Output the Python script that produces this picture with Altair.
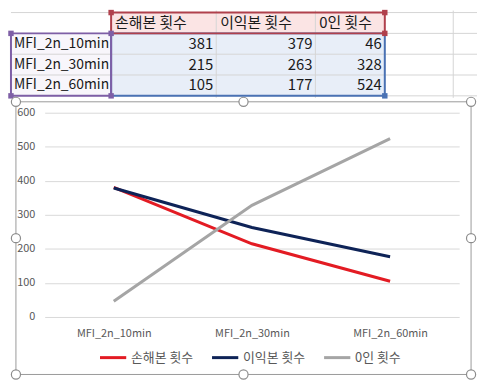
import altair as alt
import pandas as pd

# ---------------- data ----------------
categories = ["MFI_2n_10min", "MFI_2n_30min", "MFI_2n_60min"]
series_names = ["손해본 횟수", "이익본 횟수", "0인 횟수"]
loss_counts = [381, 215, 105]
profit_counts = [379, 263, 177]
zero_counts = [46, 328, 524]
y_ticks = [0, 100, 200, 300, 400, 500, 600]
series_colors = ["#e31b23", "#0e2357", "#a5a5a5"]

FONT = "Noto Sans CJK KR"
series_values = [loss_counts, profit_counts, zero_counts]

long_rows = []
for s, vals in zip(series_names, series_values):
    for c, v in zip(categories, vals):
        long_rows.append({"category": c, "series": s, "value": v})
long_df = pd.DataFrame(long_rows)

# ------------- spreadsheet grid layout (pixels, relative to plot origin) -------------
col_edges = [-34, 67, 173, 273, 343]
extra_cols = [412]
row_h = 21
n_rows = 4
sheet_left, sheet_right = -34, 436
PW, PH = 418, 206
TH = row_h * n_rows
FR = dict(x=-29, x2=PW + 12, y=-11, y2=PH + 58)

# cells
cells = []
for r in range(n_rows):
    for c in range(4):
        if r == 0 and c == 0:
            fill = "#ffffff"
        elif r == 0:
            fill = "#fbe4e4"
        elif c == 0:
            fill = "#f8f6fb"
        else:
            fill = "#e8eef8"
        cells.append(dict(x=col_edges[c], x2=col_edges[c + 1], y=r * row_h,
                          y2=(r + 1) * row_h, fill=fill))
cells_df = pd.DataFrame(cells)

hgrid_df = pd.DataFrame([dict(x=sheet_left, x2=sheet_right, y=r * row_h) for r in range(n_rows + 1)])
vgrid_df = pd.DataFrame([dict(x=e, y=-2, y2=TH + 2) for e in col_edges[1:] + extra_cols])

head_txt = []
for i, s in enumerate(series_names):
    head_txt.append(dict(x=col_edges[i + 1] + 4, y=row_h / 2, t=s))
head_df = pd.DataFrame(head_txt)

rowlab_txt = []
for r, c in enumerate(categories):
    rowlab_txt.append(dict(x=col_edges[0] + 3, y=(r + 1) * row_h + row_h / 2, t=c))
rowlab_df = pd.DataFrame(rowlab_txt)

right_txt = []
for i, vals in enumerate(series_values):
    for r, v in enumerate(vals):
        right_txt.append(dict(x=col_edges[i + 2] - 3, y=(r + 1) * row_h + row_h / 2, t=str(v)))
right_df = pd.DataFrame(right_txt)

RED, PURPLE, BLUE = "#b0404c", "#7e5fa6", "#4a72b4"
borders_df = pd.DataFrame([
    dict(x=col_edges[1], x2=col_edges[4], y=row_h, y2=TH, c=BLUE),
    dict(x=col_edges[0], x2=col_edges[1], y=row_h, y2=TH, c=PURPLE),
    dict(x=col_edges[1], x2=col_edges[4], y=0, y2=row_h, c=RED),
])
squares_df = pd.DataFrame([
    dict(x=col_edges[1], y=0, c=RED), dict(x=col_edges[4], y=0, c=RED),
    dict(x=col_edges[4], y=row_h, c=RED),
    dict(x=col_edges[0], y=row_h, c=PURPLE), dict(x=col_edges[1], y=row_h, c=PURPLE),
    dict(x=col_edges[0], y=TH, c=PURPLE), dict(x=col_edges[1], y=TH, c=PURPLE),
    dict(x=col_edges[4], y=TH, c=BLUE),
])

def px(f):
    return alt.X(f, type="quantitative", scale=None, axis=None)

def py(f):
    return alt.Y(f, type="quantitative", scale=None, axis=None)

t_cells = alt.Chart(cells_df).mark_rect().encode(
    x=px("x"), x2="x2", y=py("y"), y2="y2", fill=alt.Fill("fill:N", scale=None))
t_hgrid = alt.Chart(hgrid_df).mark_rule(color="#d4d4d4", strokeWidth=1).encode(
    x=px("x"), x2="x2", y=py("y"))
t_vgrid = alt.Chart(vgrid_df).mark_rule(color="#d4d4d4", strokeWidth=1).encode(
    x=px("x"), y=py("y"), y2="y2")
t_head = alt.Chart(head_df).mark_text(align="left", baseline="middle", font=FONT,
                                      fontSize=15, color="#1a1a1a").encode(
    x=px("x"), y=py("y"), text="t:N")
t_rowlab = alt.Chart(rowlab_df).mark_text(align="left", baseline="middle", font=FONT,
                                          fontSize=14, color="#1a1a1a").encode(
    x=px("x"), y=py("y"), text="t:N")
t_right = alt.Chart(right_df).mark_text(align="right", baseline="middle", font=FONT,
                                        fontSize=15, color="#1a1a1a").encode(
    x=px("x"), y=py("y"), text="t:N")
t_borders = alt.Chart(borders_df).mark_rect(filled=False, strokeWidth=2).encode(
    x=px("x"), x2="x2", y=py("y"), y2="y2", stroke=alt.Stroke("c:N", scale=None))
t_squares = alt.Chart(squares_df).mark_square(size=30, filled=True, opacity=1).encode(
    x=px("x"), y=py("y"), color=alt.Color("c:N", scale=None))

table = alt.layer(t_cells, t_hgrid, t_vgrid, t_head, t_rowlab, t_right, t_borders,
                  t_squares).properties(width=PW, height=TH)

# ---------------- line chart ----------------
lines = alt.Chart(long_df).mark_line(strokeWidth=3).encode(
    x=alt.X("category:N", sort=categories, scale=alt.Scale(type="point", padding=0.5),
            axis=alt.Axis(title=None, labelAngle=0, ticks=False, domain=False, grid=False,
                          labelFont=FONT, labelFontSize=11, labelColor="#595959",
                          labelPadding=11)),
    y=alt.Y("value:Q", scale=alt.Scale(domain=[0, 600]),
            axis=alt.Axis(title=None, values=y_ticks, ticks=False, domain=False,
                          gridColor="#d9d9d9", gridWidth=1, labelFont=FONT,
                          labelFontSize=11, labelColor="#595959", labelPadding=10)),
    color=alt.Color("series:N", sort=series_names,
                    scale=alt.Scale(domain=series_names, range=series_colors),
                    legend=alt.Legend(title=None, orient="none", legendX=54, legendY=333,
                                      direction="horizontal", symbolType="stroke",
                                      symbolStrokeWidth=3, symbolSize=700,
                                      labelFont=FONT, labelFontSize=13,
                                      labelColor="#595959", columnPadding=12,
                                      labelOffset=3)),
)

frame = alt.Chart(pd.DataFrame({"k": [0]})).mark_rect(
    filled=False, stroke="#9a9a9a", strokeWidth=1).encode(
    x=alt.value(FR["x"]), x2=alt.value(FR["x2"]), y=alt.value(FR["y"]), y2=alt.value(FR["y2"]))

mx = (FR["x"] + FR["x2"]) / 2
my = (FR["y"] + FR["y2"]) / 2
handles_df = pd.DataFrame([
    dict(x=FR["x"], y=FR["y"]), dict(x=mx, y=FR["y"]), dict(x=FR["x2"], y=FR["y"]),
    dict(x=FR["x"], y=my), dict(x=FR["x2"], y=my),
    dict(x=FR["x"], y=FR["y2"]), dict(x=mx, y=FR["y2"]), dict(x=FR["x2"], y=FR["y2"]),
])
handles = alt.Chart(handles_df).mark_point(shape="circle", filled=True, fill="white",
                                           stroke="#8c8c8c", strokeWidth=1.2, size=85,
                                           opacity=1).encode(x=px("x"), y=py("y"))

chart_panel = alt.layer(frame, lines, handles).resolve_scale(
    x="independent", y="independent").properties(width=PW, height=PH)

chart = alt.vconcat(table, chart_panel, spacing=-5).properties(padding=0).configure_view(
    strokeWidth=0)

chart.save("out.html", embed_options={"renderer": "svg", "actions": False})
